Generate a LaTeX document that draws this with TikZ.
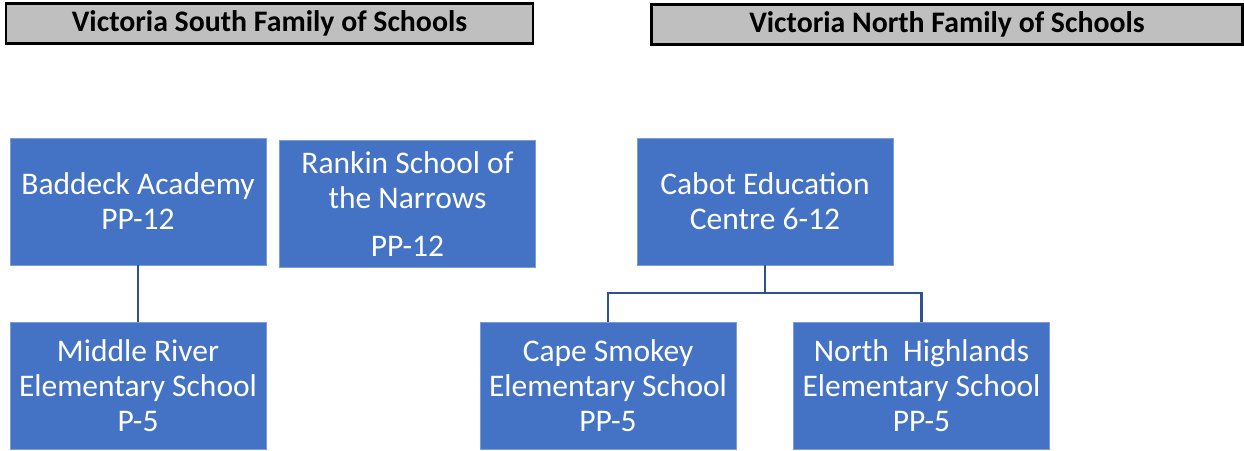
\documentclass[tikz,border=0pt]{standalone}
\usepackage{fontspec}
\setmainfont{Carlito}
\definecolor{schoolblue}{HTML}{4472C4}
\definecolor{linkblue}{HTML}{2F528F}
\definecolor{headgray}{HTML}{BFBFBF}
\begin{document}
\begin{tikzpicture}[x=1pt, y=-1pt,
  family/.style={draw=black, line width=2.2pt, fill=headgray, inner sep=0pt,
    minimum height=40pt, font=\fontsize{29.8}{34}\selectfont\bfseries},
  school/.style={draw=schoolblue!70!white, line width=0.8pt, fill=schoolblue,
    text=white, align=center, inner sep=0pt, minimum width=256pt,
    minimum height=127pt, font=\fontsize{31.5}{35}\selectfont},
  link/.style={draw=linkblue, line width=2.5pt}]
\useasboundingbox (0,0) rectangle (1244,450);

% family headers
\node[family, minimum width=527pt] (south) at (269.5,23.5) {Victoria South Family of Schools};
\node[family, minimum width=591pt] (north) at (947,24.5) {Victoria North Family of Schools};

% victoria south
\node[school] (baddeck) at (138,201.5) {Baddeck Academy\\PP-12};
\node[school] (rankin) at (407.5,204) {Rankin School of\\the Narrows\\[13pt]PP-12};
\node[school] (middle) at (138,385.5) {Middle River\\Elementary School\\P-5};

\draw[link] (baddeck) -- (middle);

% victoria north
\node[school] (cabot) at (765,201.5) {Cabot Education\\Centre 6-12};
\node[school] (cape) at (608,385.5) {Cape Smokey\\Elementary School\\PP-5};
\node[school] (highlands) at (921.5,385.5) {North\ \ Highlands\\Elementary School\\PP-5};

\coordinate (fork) at (765,293);
\draw[link] (cabot) -- (fork);
\draw[link] (cape) |- (fork) -| (highlands);
\end{tikzpicture}
\end{document}
